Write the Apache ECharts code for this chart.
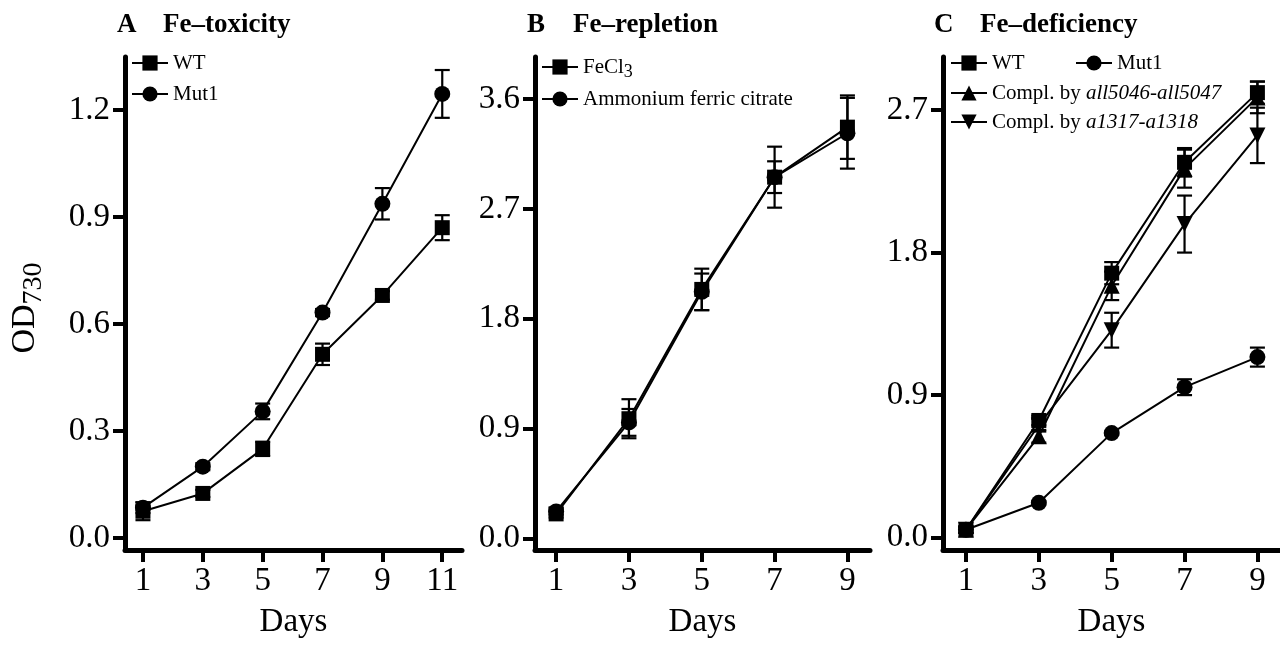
<!DOCTYPE html>
<html>
<head>
<meta charset="utf-8">
<script src="https://cdn.jsdelivr.net/npm/echarts@6/dist/echarts.min.js"></script>
<style>
html, body { margin: 0; padding: 0; background: #fff; }
#main { width: 1280px; height: 646px; }
</style>
</head>
<body>
<div id="main"></div>
<script>
// x values (days)
const daysA = [1, 3, 5, 7, 9, 11];
const daysBC = [1, 3, 5, 7, 9];

// A  Fe-toxicity
const toxWT = [0.075, 0.125, 0.25, 0.515, 0.68, 0.87];
const toxWTErr = [0.025, 0.01, 0.02, 0.03, 0.012, 0.035];
const toxMut = [0.085, 0.2, 0.355, 0.632, 0.937, 1.245];
const toxMutErr = [0.015, 0.01, 0.022, 0.01, 0.044, 0.067];

// B  Fe-repletion
const repFeCl3 = [0.2, 0.98, 2.04, 2.96, 3.37];
const repFeCl3Err = [0.03, 0.16, 0.17, 0.13, 0.26];
const repAFC = [0.22, 0.95, 2.02, 2.96, 3.32];
const repAFCErr = [0.03, 0.11, 0.15, 0.25, 0.29];

// C  Fe-deficiency
const defWT = [0.05, 0.74, 1.67, 2.37, 2.81];
const defWTErr = [0.02, 0.03, 0.07, 0.09, 0.07];
const defMut = [0.05, 0.22, 0.66, 0.95, 1.14];
const defMutErr = [0.02, 0.01, 0.01, 0.05, 0.06];
const defC1 = [0.05, 0.64, 1.59, 2.33, 2.78];
const defC1Err = [0.02, 0.04, 0.09, 0.12, 0.1];
const defC2 = [0.05, 0.71, 1.31, 1.98, 2.54];
const defC2Err = [0.02, 0.04, 0.11, 0.18, 0.175];

// tick labels
const yTicksA = [0, 0.3, 0.6, 0.9, 1.2];
const yTicksB = [0, 0.9, 1.8, 2.7, 3.6];
const yTicksC = [0, 0.9, 1.8, 2.7];

const F = 'Liberation Serif';
const BLACK = '#000';
const TRI_DOWN = 'path://M0,0L10,0L5,9Z';

const myChart = echarts.init(document.getElementById('main'));

function xAx(gi, min, max, ticks) {
  return {
    type: 'value', gridIndex: gi, min: min, max: max,
    name: 'Days', nameLocation: 'middle', nameGap: 56,
    nameTextStyle: { fontFamily: F, fontSize: 33, color: BLACK },
    axisLine: { onZero: false, lineStyle: { color: BLACK, width: 5 } },
    axisTick: { customValues: ticks, length: 12, lineStyle: { color: BLACK, width: 4 } },
    axisLabel: { customValues: ticks, margin: 15, fontFamily: F, fontSize: 33, color: BLACK },
    splitLine: { show: false }
  };
}

function yAx(gi, min, max, ticks) {
  return {
    type: 'value', gridIndex: gi, min: min, max: max,
    axisLine: { onZero: false, lineStyle: { color: BLACK, width: 5 } },
    axisTick: { customValues: ticks, length: 12, lineStyle: { color: BLACK, width: 4 } },
    axisLabel: {
      customValues: ticks, margin: 15, fontFamily: F, fontSize: 33, color: BLACK,
      formatter: function (v) { return v.toFixed(1); }
    },
    splitLine: { show: false }
  };
}

function lineSeries(name, gi, days, vals, symbol, size) {
  return {
    name: name, type: 'line', xAxisIndex: gi, yAxisIndex: gi,
    data: days.map(function (d, i) { return [d, vals[i]]; }),
    symbol: symbol, symbolSize: size, showSymbol: true,
    lineStyle: { color: BLACK, width: 2 },
    itemStyle: { color: BLACK },
    emphasis: { disabled: true },
    z: 3
  };
}

// error bars drawn with the axis coordinates
function errSeries(gi, days, vals, errs) {
  return {
    type: 'custom', xAxisIndex: gi, yAxisIndex: gi, silent: true, z: 4,
    encode: { x: 0, y: [1, 2] },
    data: days.map(function (d, i) { return [d, vals[i] - errs[i], vals[i] + errs[i]]; }),
    renderItem: function (params, api) {
      const lo = api.coord([api.value(0), api.value(1)]);
      const hi = api.coord([api.value(0), api.value(2)]);
      const w = 7.5;
      const st = { stroke: BLACK, lineWidth: 2.2 };
      return {
        type: 'group',
        children: [
          { type: 'line', shape: { x1: lo[0], y1: lo[1], x2: hi[0], y2: hi[1] }, style: st },
          { type: 'line', shape: { x1: lo[0] - w, y1: lo[1], x2: lo[0] + w, y2: lo[1] }, style: st },
          { type: 'line', shape: { x1: hi[0] - w, y1: hi[1], x2: hi[0] + w, y2: hi[1] }, style: st }
        ]
      };
    }
  };
}

const legendText = { fontFamily: F, fontSize: 21, color: BLACK, lineHeight: 22 };
const richLegend = {
  m: { fontFamily: F, fontSize: 21, color: BLACK, lineHeight: 28 },
  s: { fontFamily: F, fontSize: 18, color: BLACK, lineHeight: 16, verticalAlign: 'bottom' },
  i: { fontFamily: F, fontSize: 21, color: BLACK, lineHeight: 22, fontStyle: 'italic' },
  n: { fontFamily: F, fontSize: 21, color: BLACK, lineHeight: 22 }
};

function legend(names, left, top, gap, orient, formatter) {
  const o = {
    data: names, left: left, top: top, orient: orient || 'vertical',
    itemWidth: 36, itemHeight: 19, itemGap: gap, padding: 0,
    selectedMode: false, textStyle: Object.assign({}, legendText, { rich: richLegend })
  };
  if (formatter) o.formatter = formatter;
  return o;
}

function title(letter, text, left) {
  return {
    text: '{l|' + letter + '}{t|' + text + '}', left: left, top: 12, padding: 0,
    textStyle: {
      rich: {
        l: { fontFamily: F, fontSize: 27, fontWeight: 'bold', color: BLACK, width: 46 },
        t: { fontFamily: F, fontSize: 27, fontWeight: 'bold', color: BLACK }
      }
    }
  };
}

myChart.setOption({
  animation: false,
  backgroundColor: '#fff',
  title: [
    title('A', 'Fe–toxicity', 117),
    title('B', 'Fe–repletion', 527),
    title('C', 'Fe–deficiency', 934)
  ],
  grid: [
    { left: 125, top: 57, width: 337, height: 493 },
    { left: 535, top: 57, width: 335, height: 493 },
    { left: 943, top: 57, width: 337, height: 493 }
  ],
  xAxis: [
    xAx(0, 0.4, 11.66, daysA),
    xAx(1, 0.42, 9.62, daysBC),
    xAx(2, 0.37, 9.62, daysBC)
  ],
  yAxis: [
    yAx(0, -0.0336, 1.3485, yTicksA),
    yAx(1, -0.096, 3.945, yTicksB),
    yAx(2, -0.078, 3.035, yTicksC)
  ],
  legend: [
    legend(['WT', 'Mut1'], 131, 52, 9),
    legend(['FeCl3', 'Ammonium ferric citrate'], 541, 53, 4, 'vertical', function (name) {
      return name === 'FeCl3' ? '{m|FeCl}{s|3}' : '{m|' + name + '}';
    }),
    legend(['WT '], 950, 52, 9),
    legend(['Mut1 '], 1075, 52, 9),
    legend(['Compl. by all5046-all5047', 'Compl. by a1317-a1318'], 950, 82, 7, 'vertical', function (name) {
      return '{n|Compl. by }{i|' + name.replace('Compl. by ', '') + '}';
    })
  ],
  graphic: [{
    type: 'text', x: 25, y: 308, rotation: Math.PI / 2,
    style: {
      text: '{m|OD}{s|730}', align: 'center', verticalAlign: 'middle',
      rich: {
        m: { fontFamily: F, fontSize: 34, fill: BLACK, lineHeight: 46 },
        s: { fontFamily: F, fontSize: 28, fill: BLACK, lineHeight: 28, verticalAlign: 'bottom' }
      }
    }
  }],
  series: [
    lineSeries('WT', 0, daysA, toxWT, 'rect', 15),
    lineSeries('Mut1', 0, daysA, toxMut, 'circle', 16),
    errSeries(0, daysA, toxWT, toxWTErr),
    errSeries(0, daysA, toxMut, toxMutErr),

    lineSeries('FeCl3', 1, daysBC, repFeCl3, 'rect', 15),
    lineSeries('Ammonium ferric citrate', 1, daysBC, repAFC, 'circle', 16),
    errSeries(1, daysBC, repFeCl3, repFeCl3Err),
    errSeries(1, daysBC, repAFC, repAFCErr),

    lineSeries('WT ', 2, daysBC, defWT, 'rect', 15),
    lineSeries('Mut1 ', 2, daysBC, defMut, 'circle', 16),
    lineSeries('Compl. by all5046-all5047', 2, daysBC, defC1, 'triangle', 16),
    lineSeries('Compl. by a1317-a1318', 2, daysBC, defC2, TRI_DOWN, 16),
    errSeries(2, daysBC, defWT, defWTErr),
    errSeries(2, daysBC, defMut, defMutErr),
    errSeries(2, daysBC, defC1, defC1Err),
    errSeries(2, daysBC, defC2, defC2Err)
  ]
});
</script>
</body>
</html>
